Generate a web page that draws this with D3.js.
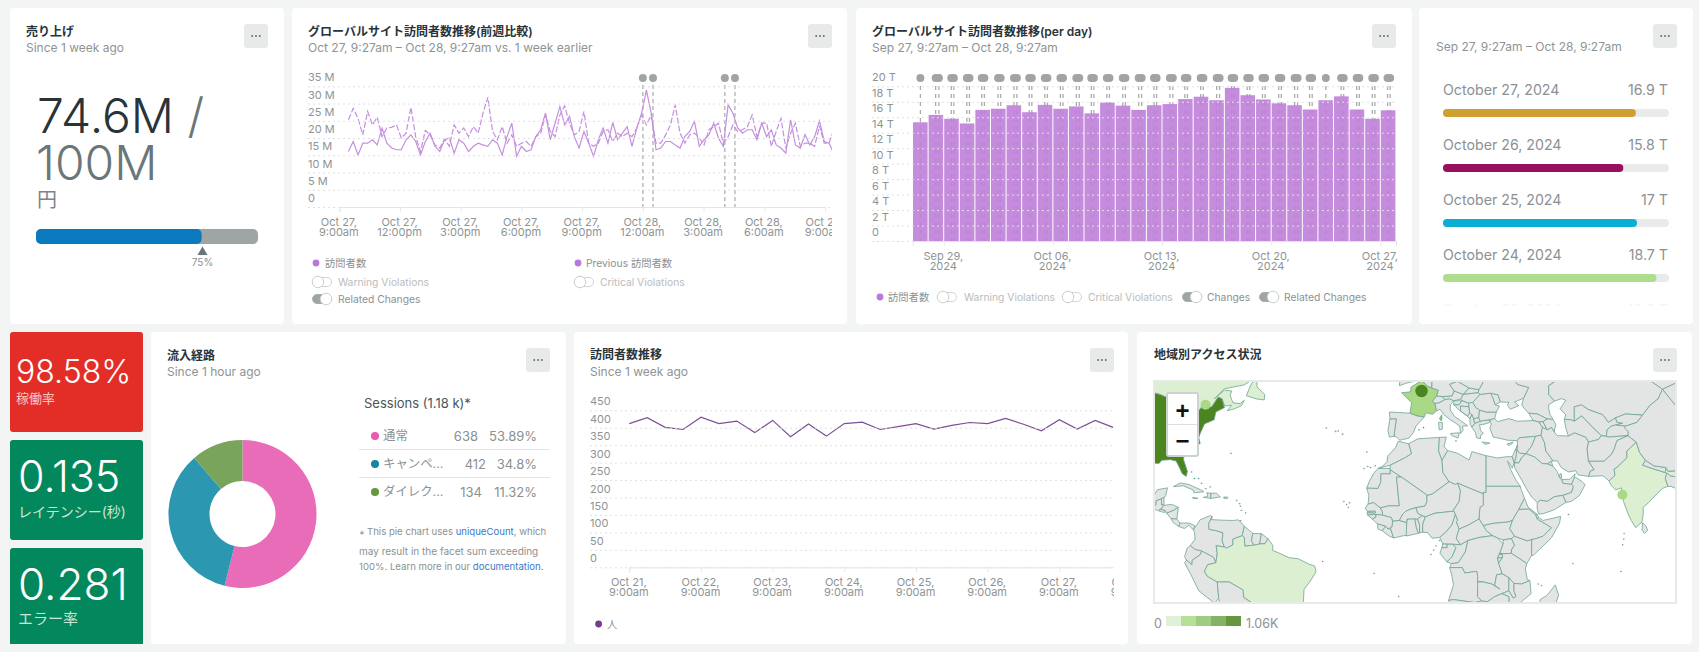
<!DOCTYPE html>
<html lang="ja">
<head>
<meta charset="utf-8">
<title>Dashboard</title>
<script src="https://cdn.jsdelivr.net/npm/d3@7"></script>
<style>
html,body{margin:0;padding:0;background:#f3f4f4;overflow:hidden}
svg{display:block}
text{font-family:Inter,"Noto Sans CJK JP",sans-serif;fill:#8b9192}
.title{font-size:12px;font-weight:600;fill:#293338}
.sub{font-size:12px;fill:#8e9494}
.tick text{font-size:11px;fill:#8e9494}
.grid .tick line{stroke:#dfe1e1;stroke-dasharray:2 3}
.grid .domain{display:none}
.xaxis .domain{stroke:#e3e5e5}
.xaxis .tick line{stroke:#e8eaea}
</style>
</head>
<body>
<svg id="board" width="1699" height="652"></svg>
<script>
// ---------- Sales gauge ----------
const salesValue = 74.6, salesTarget = 100, salesMarker = 75;

// ---------- Hourly visitors, this week vs. previous week (millions) ----------
const visitorsCurrent = [16.1,19,15.1,18.5,18.5,19.5,18,22.9,18.5,17.1,16.6,16.6,19.5,20.9,19,15.1,19,21.4,17.6,16.1,19.5,20,15.6,19.5,18.5,16.1,17.6,18.5,18,17.6,19.5,18.5,15.1,20.4,24.3,14.7,17.6,16.1,16.6,20.4,22.4,27.2,19.5,24.3,
  29.1,23.8,26.3,20.4,17.1,21.9,18.5,14.7,19.5,22.9,18.5,24.5,19.5,21.4,23.3,17.6,22.9,27.2,33.9,27.2,16.6,17.1,19,19,18,17.1,20.4,21.9,24.8,17.6,19.5,20.9,24.3,20,17.6,29.6,27.2,22.9,21.4,22.4,22.4,19.5,24.3,20.4,22.4,18,17.1,15.6,25.3,18,17.1,21,18,20.4,25,19,18.5,15.6];
const visitorsPrevious = [25.3,28.6,25.7,20.9,27.7,23.8,26,20.4,22.9,23.1,23.8,20,21.4,28.9,20.4,16.1,22.2,20.9,18,17.1,19.7,17.6,23.8,21.4,22.9,20.4,23.3,21.4,27.2,31.8,21.9,19.5,23.3,18.5,20.9,17.6,18.5,19,17.6,20.4,21.4,26.7,21.9,20.4,
  26.7,29.3,24.3,20.9,21.9,27.7,18.5,17.6,18.5,21.9,22.4,19,21.4,20.4,21.4,20.4,22.9,26.7,23.8,26.7,18.5,18.5,20.9,23.8,29.6,21.4,18.5,20.9,21.4,20,18,22.4,23.3,24.3,18.5,20.4,23.8,21.9,22.4,23.3,26.7,20.4,24.3,24.3,17.6,21.9,25.7,17.1,21.4,24.3,17.6,18.5,18.5,17.6,23.5,18.5,18.5,22.4];
const sampleMinutes = 14.25;
const relatedChangeHours = [15, 15.5, 19.05, 19.55];

const tickHours3h = [0,3,6,9,12,15,18,21,24];
const ticksMillions = [0,5,10,15,20,25,30,35];

// ---------- Daily totals in trillions, Sep 27 to Oct 27 ----------
const dailyTotals = [15.35,16.3,15.8,15.2,16.95,17.1,17.55,16.65,17.6,17.1,17.4,16.5,17.9,17.5,16.95,17.55,17.7,18.35,18.65,18.2,19.8,18.85,18.3,17.8,17.55,17,18.2,18.7,17,15.8,16.9];
const dailyChangeHours = [[12],[11.5,16.5],[11.5,15.5],[11.5,15.5],[10.5,14.5],[11.5,15.5],[12,16.5],[11.5,15.5],[11.5,15.5],[11.5,15.5],[12,16.5],[11,15],[11,15],[11.5,15.5],[12,16.5],[11.5,15.5],[12,16.5],[11,15],[11.5,15.5],[12,16.5],[11,15],[11,15],[10.5,14.5],[11.5,15.5],[12,16.5],[11,15],[12],[11.5,15.5],[11.5,15.5],[11.5,15.5],[11,15]];
const dailyTickDays = [2,9,16,23,30];
const ticksTrillions = [0,2,4,6,8,10,12,14,16,18,20];
const rowColors = ["#cf9f30","#990f5f","#0cafd3","#aedd8d"];

// ---------- Service health tiles ----------
const tileValues = ["98.58%","0.135","0.281"];
const tileLabels = ["稼働率","レイテンシー(秒)","エラー率"];
const tileColors = ["#e22e27","#03875c","#03875c"];

// ---------- Traffic sources ----------
const sourceNames = ["通常","キャンペ...","ダイレク..."];
const sourceCounts = [638,412,134];
const sourceShares = ["53.89%","34.8%","11.32%"];
const sourceSlices = ["#e96cb9","#2b97b1","#79a45c"];
const sourceDots = ["#ea58b4","#14879f","#62983f"];

// ---------- Visitors every six hours, one week ----------
const peopleSeries = [412,429,401,395,430,412,419,386,421,374,411,376,412,416,395,403,412,396,407,415,412,427,410,391,423,396,421,401];
const ticksPeople = [0,50,100,150,200,250,300,350,400,450];
const tickDaysPeople = [0,1,2,3,4,5,6,7];

// ---------- Access by region ----------
const regionAccess = {"United States":1060,"France":300,"Corsica":560,"Canada":60,"Brazil":60,"India":60};
const accessRamp = ["#dcefd0","#a9d985","#8cc569","#6fa64a","#4a8520"];
const cityBubbles = [["Paris",2.3,48.8,1060,"#4a8520"],["Montreal",-73.6,45.5,300,"#a9d985"],["Mumbai",72.9,19.2,300,"#a9d985"]];
const regions = [
["United States",[[-110,49],[-95.2,49],[-89.5,48],[-84.5,46.5],[-82.5,45.3],[-82.5,43],[-83,42],[-79,43],[-76.5,43.6],[-75,45],[-71.5,45],[-69.2,47.4],[-67.8,47],[-67,44.8],[-70,43.7],[-70.6,41.7],[-74,40.6],[-75.5,38],[-76,36.8],[-75.5,35.2],[-78,33.9],[-81,32],[-81.4,30.5],[-80,26.8],[-80.4,25.2],[-81.8,26],[-82.8,28],[-84,30],[-86,30.4],[-89,30.2],[-90,29.2],[-94,29.5],[-97.3,27.5],[-97.5,25.9],[-100,28],[-106,31.8],[-110,31.3]]],
["Canada",[[-110,49],[-95.2,49],[-89.5,48],[-84.5,46.5],[-82.5,45.3],[-82.5,43],[-83,42],[-79,43],[-76.5,43.6],[-75,45],[-71.5,45],[-69.2,47.4],[-67.8,47],[-66.9,45.2],[-64.5,45.4],[-66,44],[-63.5,44.5],[-61,45.3],[-60,46.6],[-61.5,45.8],[-64,46],[-65,47.8],[-64.4,48.8],[-67,49],[-70.5,47],[-67,49.3],[-60,50.2],[-56,51.8],[-58,54.5],[-70,60],[-110,60]]],
["Canada",[[-59.3,47.7],[-55.5,46.9],[-53,46.7],[-52.8,48],[-55.5,49.7],[-55.6,51.6],[-57.5,50.5]]],
["Mexico",[[-117,32.5],[-106,31.8],[-100,28],[-97.5,25.9],[-97.8,22.4],[-96,19],[-94.5,18.2],[-92,18.6],[-90.5,20.9],[-87,21.5],[-87.6,19],[-88.3,18],[-89.1,17.9],[-91,17.2],[-91,16],[-92.2,14.6],[-94.5,16.2],[-100,17],[-105.5,20],[-110,26],[-115,31]]],
["Guatemala",[[-92.2,14.6],[-91,16],[-91,17.2],[-89.1,17.9],[-89.1,15.9],[-88.2,15.7],[-89.3,14.4],[-90.5,13.9]]],
["Belize",[[-89.1,17.9],[-88.3,18.4],[-88.2,16],[-89.1,15.9]]],
["El Salvador",[[-90.1,13.8],[-89.3,14.4],[-87.8,13.9],[-88,13.2]]],
["Honduras",[[-89.3,14.4],[-88.2,15.7],[-85.5,16],[-83.2,15],[-84.8,14],[-87.3,13],[-87.8,13.9]]],
["Nicaragua",[[-87.3,13],[-84.8,14],[-83.2,15],[-83.7,11],[-85.7,11.1]]],
["Costa Rica",[[-85.7,11.1],[-83.7,11],[-82.6,9.6],[-83,8.4],[-85,9.8]]],
["Panama",[[-83,8.4],[-82.6,9.6],[-79.5,9.6],[-77.4,8.7],[-77.9,7.2],[-79.5,8.9],[-81,7.7]]],
["Cuba",[[-84.9,21.9],[-82.5,23.1],[-79.5,22.6],[-75,20.7],[-74.2,20.2],[-77.7,19.9],[-78,20.8],[-81.5,22.2],[-83.5,22]]],
["Haiti",[[-74.4,18.4],[-71.8,18],[-71.7,19.7],[-73.2,19.9],[-72.8,18.6]]],
["Dominican Republic",[[-71.8,18],[-68.4,18.5],[-69.9,19.8],[-71.7,19.7]]],
["Jamaica",[[-78.3,18.3],[-76.3,18.1],[-76.8,17.9],[-78,18]]],
["Puerto Rico",[[-67.2,18.5],[-65.7,18.4],[-66,18],[-67.2,18]]],
["Colombia",[[-77.9,7.2],[-75.6,10.7],[-72,12.2],[-71.3,11.8],[-72.5,9.5],[-72.4,7.4],[-70,7],[-67.5,6.2],[-67.8,3.5],[-67,1.2],[-69.9,1.7],[-69.5,-1],[-70,-4.3],[-70.8,-2.4],[-75,-0.2],[-77.4,0.4],[-79,1.7],[-77.3,4],[-77.5,6.5]]],
["Venezuela",[[-71.3,11.8],[-71.8,10.8],[-68,10.6],[-64,10.5],[-62,10.7],[-60,8.5],[-60.7,5.2],[-64,4],[-64,2],[-66.3,0.8],[-67,1.2],[-67.8,3.5],[-67.5,6.2],[-70,7],[-72.4,7.4],[-72.5,9.5]]],
["Guyana",[[-60,8.5],[-57,6],[-57.5,3.4],[-56.5,1.9],[-59.8,1.5],[-60,4.5],[-60.7,5.2]]],
["Suriname",[[-57,6],[-54,5.9],[-54.6,2.3],[-56.5,1.9],[-57.5,3.4]]],
["French Guiana",[[-54,5.9],[-51.7,4.2],[-52.7,2.4],[-54.6,2.3]]],
["Ecuador",[[-80.1,0.8],[-79,1.7],[-77.4,0.4],[-75,-0.2],[-75.5,-1.5],[-78.3,-3.4],[-78.4,-5],[-80.3,-3.4],[-81,-2.2]]],
["Peru",[[-81,-4.3],[-80.3,-3.4],[-78.4,-5],[-78.3,-3.4],[-75.5,-1.5],[-75,-0.2],[-70.8,-2.4],[-70,-4.3],[-72.9,-5],[-74,-7.3],[-73,-9],[-69.5,-11],[-69,-16.5],[-70.4,-18.3],[-76,-14],[-79,-8]]],
["Brazil",[[-51.7,4.2],[-50,1.8],[-50,0],[-48,-0.8],[-44.3,-2.5],[-41,-2.9],[-37.5,-4.7],[-35.2,-5.5],[-34.8,-7.5],[-37,-11],[-39,-13.5],[-39.2,-17.5],[-40.8,-21.5],[-44,-23],[-48.5,-26],[-48.8,-28.5],[-53.4,-33.7],[-57.6,-30.2],[-54.6,-25.6],[-55,-24],[-57.8,-22.1],[-58,-20],[-57.5,-18],[-60.2,-16.3],[-60.5,-13.7],[-65.3,-11],[-69.5,-11],[-73,-9],[-74,-7.3],[-72.9,-5],[-70,-4.3],[-69.5,-1],[-69.9,1.7],[-67,1.2],[-66.3,0.8],[-64,2],[-64,4],[-60.7,5.2],[-60,4.5],[-59.8,1.5],[-56.5,1.9],[-54.6,2.3],[-52.7,2.4]]],
["Bolivia",[[-69.5,-11],[-65.3,-11],[-60.5,-13.7],[-60.2,-16.3],[-57.5,-18],[-58,-20],[-62.6,-22.2],[-67,-22.8],[-68.5,-19.5],[-69,-16.5]]],
["Chile",[[-70.4,-18.3],[-68.5,-19.5],[-67,-22.8],[-68,-27],[-70,-27],[-70.5,-23]]],
["Paraguay",[[-58,-20],[-57.8,-22.1],[-55,-24],[-54.6,-25.6],[-58,-27],[-60,-24],[-62.6,-22.2]]],
["Morocco",[[-5.9,35.8],[-2.2,35.1],[-1.2,32.2],[-3.6,30.9],[-8.7,28.7],[-13,27.7],[-11.5,28.3],[-9.8,29.8],[-9.6,31.5],[-6.8,34]]],
["Western Sahara",[[-13,27.7],[-8.7,27.7],[-8.7,26],[-12,26],[-12,23.5],[-13,21.3],[-17,21.4],[-16,23.7],[-14.5,26.2]]],
["Mauritania",[[-17,21.4],[-13,21.3],[-12,23.5],[-12,26],[-8.7,26],[-8.7,27.3],[-4.8,25],[-6.5,25],[-5.5,15.5],[-9.3,15.5],[-12.2,14.8],[-14.5,16.6],[-16.5,16.1],[-16.2,19]]],
["Algeria",[[-2.2,35.1],[1,36.5],[8.6,36.9],[8.3,33],[9.5,30.2],[9.8,26.5],[12,23.5],[6,19.4],[4.2,19],[3.2,19.8],[-4.8,25],[-8.7,27.3],[-8.7,28.7],[-3.6,30.9],[-1.2,32.2]]],
["Tunisia",[[8.6,36.9],[11,37],[10.2,34.3],[11.5,33.1],[9.5,30.2],[8.3,33]]],
["Libya",[[11.5,33.1],[15,32.3],[19,30.3],[20,32.8],[25,31.6],[25,20],[24,20],[24,19.5],[15,23],[14.2,22.6],[12,23.5],[9.8,26.5],[9.5,30.2]]],
["Egypt",[[25,31.6],[29,30.9],[32.3,31.3],[34.2,31.3],[34.9,29.5],[34.2,27.8],[33,29.5],[32.5,29.9],[33.8,27],[35.5,24],[37,22],[25,22]]],
["Sudan",[[25,22],[37,22],[37.3,21],[38.5,18],[36.5,14.3],[34.3,10.6],[33,10],[31,9.8],[27.5,9.5],[24,8.7],[22.5,11],[22.8,15],[24,15.7],[24,20],[25,20]]],
["South Sudan",[[24,8.7],[27.5,9.5],[31,9.8],[33,10],[34.3,10.6],[33.3,7.7],[35,5],[33.9,4.2],[31,3.7],[29,4.4],[27.2,5.2],[25,7]]],
["Mali",[[-12.2,14.8],[-9.3,15.5],[-5.5,15.5],[-6.5,25],[-4.8,25],[3.2,19.8],[4.2,19],[4.2,16.9],[3.5,15.4],[0.3,14.9],[-2,14.2],[-3.3,13.6],[-4.3,12.7],[-5.5,10.5],[-7.9,10.2],[-8.3,11.5],[-11.4,12.3],[-11.5,13.5]]],
["Niger",[[3.5,15.4],[4.2,16.9],[4.2,19],[6,19.4],[12,23.5],[14.2,22.6],[15,23],[16,20.5],[15.5,16.9],[13.5,14],[13.6,13.7],[10,13.3],[7,13],[3.6,11.7],[2.4,12.2],[0.9,13],[0.3,14.9]]],
["Chad",[[15,23],[24,19.5],[24,15.7],[22.8,15],[22.5,11],[19,9],[15.5,7.5],[14.5,10],[15,10.5],[14.2,12.5],[13.5,14],[15.5,16.9],[16,20.5]]],
["Senegal",[[-17.5,14.7],[-16.5,16.1],[-14.5,16.6],[-12.2,14.8],[-11.5,13.5],[-11.4,12.3],[-13.7,12.6],[-16.7,12.4],[-16.8,13.2],[-14,13.1],[-14,13.7],[-16.7,13.6]]],
["Gambia",[[-16.8,13.2],[-14,13.1],[-14,13.7],[-16.7,13.6]]],
["Guinea-Bissau",[[-16.7,12.4],[-13.7,12.6],[-13.7,11.7],[-15,11]]],
["Guinea",[[-15,11],[-13.7,11.7],[-13.7,12.6],[-11.4,12.3],[-8.3,11.5],[-7.9,10.2],[-8,8.5],[-9.5,7.5],[-10.3,8.5],[-13.2,9.3]]],
["Sierra Leone",[[-13.2,9.3],[-10.3,8.5],[-11.5,6.9],[-13,7.5]]],
["Liberia",[[-11.5,6.9],[-10.3,8.5],[-9.5,7.5],[-8.6,7.7],[-7.5,4.4],[-9,5]]],
["Ivory Coast",[[-7.5,4.4],[-8.6,7.7],[-8,8.5],[-7.9,10.2],[-5.5,10.5],[-2.9,9.8],[-2.7,5.3],[-4,5.2]]],
["Ghana",[[-3.1,5.1],[-2.9,9.8],[-2.8,11],[-0.1,11.1],[0.5,8],[1.2,6]]],
["Togo",[[1.2,6],[0.5,8],[-0.1,11.1],[0.9,11],[1.6,9],[1.6,6.2]]],
["Benin",[[1.6,6.2],[1.6,9],[0.9,11],[2.4,12.2],[3.6,11.7],[2.7,9],[2.7,6.4]]],
["Burkina Faso",[[-5.5,10.5],[-4.3,12.7],[-3.3,13.6],[-2,14.2],[0.3,14.9],[0.9,13],[2.4,12.2],[0.9,11],[-0.1,11.1],[-2.8,11],[-2.9,9.8]]],
["Nigeria",[[2.7,6.4],[2.7,9],[3.6,11.7],[7,13],[10,13.3],[13.6,13.7],[14.2,12.5],[13,9],[11,6.6],[8.7,4.6],[6,4.3],[4.4,6.3]]],
["Cameroon",[[8.7,4.6],[11,6.6],[13,9],[14.2,12.5],[15,10.5],[14.5,10],[15.5,7.5],[14.5,4.3],[16,2],[13.3,2.2],[9.8,2.3]]],
["Central African Republic",[[15.5,7.5],[19,9],[22.5,11],[24,8.7],[25,7],[27.2,5.2],[22.7,4.6],[18.6,3.5],[16,2],[14.5,4.3]]],
["Equatorial Guinea",[[9.8,2.3],[11.3,2.2],[11.3,1],[9.4,1]]],
["Gabon",[[9.4,1],[11.3,1],[11.3,2.2],[13.3,2.2],[14.4,1],[13,-2.3],[11.2,-4],[8.8,-1]]],
["Congo",[[11.2,-4],[13,-2.3],[14.4,1],[13.3,2.2],[16,2],[18.6,3.5],[17.7,-0.5],[15.2,-4.3],[12.8,-4.6]]],
["DR Congo",[[12.2,-6],[12.8,-4.6],[15.2,-4.3],[17.7,-0.5],[18.6,3.5],[22.7,4.6],[27.2,5.2],[29,4.4],[31,2.3],[29.7,-1.2],[29,-2.7],[29.4,-4.4],[30.7,-8.2],[28.7,-8.5],[28,-12.2],[29.8,-13.4],[27,-11.7],[24,-11],[22,-11],[22,-9],[21.7,-7.3],[17.5,-7.9],[16.6,-6]]],
["Uganda",[[31,3.7],[33.9,4.2],[35,1.9],[33.9,0.2],[33.9,-1],[29.7,-1.2],[31,2.3]]],
["Kenya",[[33.9,-1],[33.9,0.2],[35,1.9],[33.9,4.2],[35,5],[39.5,3.4],[41,3.9],[41,-1.7],[39.3,-4.6],[37.7,-3.5]]],
["Rwanda",[[29,-2.7],[29.7,-1.2],[30.6,-1.2],[30.8,-2.4]]],
["Burundi",[[29,-2.7],[30.8,-2.4],[29.4,-4.4]]],
["Tanzania",[[29.7,-1.2],[33.9,-1],[37.7,-3.5],[39.3,-4.6],[38.8,-6.5],[39.5,-10.2],[40.4,-10.5],[37.5,-11.7],[34.8,-11.5],[33,-9.5],[30.7,-8.2],[29.4,-4.4],[30.8,-2.4],[30.6,-1.2]]],
["Ethiopia",[[34.3,10.6],[36.5,14.3],[38,14.4],[40,14.5],[42.4,12.5],[43,11],[48,8],[45,5],[42,4],[41,3.9],[39.5,3.4],[35,5],[33.3,7.7]]],
["Eritrea",[[36.5,14.3],[38.5,18],[39.8,15],[43,12.6],[42.4,12.5],[40,14.5],[38,14.4]]],
["Djibouti",[[43,12.6],[43.4,11.6],[43,11],[42.4,12.5]]],
["Somalia",[[43,11],[43.4,11.6],[45,10.5],[51.2,11.9],[50.8,9.5],[48,4.5],[41.6,-1.7],[41,-1.7],[41,3.9],[42,4],[45,5],[48,8]]],
["Angola",[[12.2,-6],[16.6,-6],[17.5,-7.9],[21.7,-7.3],[22,-9],[22,-11],[24,-11],[22,-13],[22,-16],[23.5,-17.5],[21,-18],[13.5,-17],[11.8,-17.3],[13.5,-12],[13,-9]]],
["Zambia",[[22,-11],[24,-11],[27,-11.7],[29.8,-13.4],[28,-12.2],[28.7,-8.5],[30.7,-8.2],[33,-9.5],[33,-14],[30.5,-15],[28,-16],[25.5,-17.7],[23.5,-17.5],[22,-16],[22,-13]]],
["Malawi",[[33,-9.5],[34.8,-11.5],[34.8,-14],[35.5,-16],[34.5,-16.5],[33,-14]]],
["Mozambique",[[40.4,-10.5],[40.8,-15],[37,-18],[35,-20],[35.5,-24],[32.9,-26],[32,-22],[33,-20],[33,-16],[30.5,-15],[33,-14],[34.5,-16.5],[35.5,-16],[34.8,-14],[34.8,-11.5],[37.5,-11.7]]],
["Zimbabwe",[[25.5,-17.7],[28,-16],[30.5,-15],[33,-16],[33,-20],[32,-22],[29.5,-22],[26,-18.5]]],
["Namibia",[[11.8,-17.3],[13.5,-17],[21,-18],[23.5,-17.5],[25.5,-17.7],[21,-19],[20,-28],[16.5,-28],[14.5,-22]]],
["Madagascar",[[49.3,-12],[50.5,-15.5],[47,-25],[45,-25.5],[43.3,-22],[44,-17],[46.5,-15.5]]],
["United Kingdom",[[-5.5,50],[-3,50.6],[1.4,51.2],[1,53],[-5,53]]],
["France",[[-1.8,43.4],[-1.2,46],[-4.7,48.4],[-1.6,48.6],[-1.4,49.7],[1.6,50.9],[2.6,51.1],[4.2,50],[5.8,49.5],[8.2,49],[7.6,47.6],[6.1,46.3],[7,45.9],[7.6,44],[6.2,43.1],[3.9,43.5],[3.2,42.4],[0.7,42.7]]],
["Corsica",[[9.4,43],[9.5,41.9],[9.2,41.4],[8.6,42]]],
["Sardinia",[[8.3,41],[9.6,41],[9.6,39.2],[8.5,39]]],
["Sicily",[[12.5,38],[15.6,38.2],[15.1,36.7],[12.8,37.5]]],
["Spain",[[-9,43.7],[-1.8,43.4],[0.7,42.7],[3.2,42.4],[0.3,40],[-0.5,38.3],[-2.1,36.7],[-5.4,36.1],[-6.4,37],[-7.4,37.2],[-7,39.6],[-6.6,41.9],[-8.8,41.9]]],
["Portugal",[[-8.8,41.9],[-6.6,41.9],[-7,39.6],[-7.4,37.2],[-9,37],[-9.5,38.8]]],
["Italy",[[7,45.9],[7.6,44],[8.8,44.4],[10.2,43],[12.2,41.8],[14.3,40.8],[15.7,40],[16,38],[16.9,38.9],[16.7,40],[18.5,40.1],[16,41.5],[14,42.5],[12.4,44.2],[12.4,45.5],[13.7,46.5],[12,47],[10.5,46.8],[8.5,46]]],
["Belgium",[[2.6,51.1],[4.2,51.4],[6,50.8],[5.8,49.5],[4.2,50]]],
["Germany",[[6,50.8],[5.9,49.5],[8.2,49],[7.6,47.6],[9.6,47.5],[13,47.6],[13.8,48.8],[12.2,50.3],[15,51],[15,53],[6,53]]],
["Switzerland",[[6.1,46.3],[7.6,47.6],[9.6,47.5],[10.5,46.8],[8.5,46],[7,45.9]]],
["Austria",[[9.6,47.5],[13,47.6],[13.8,48.8],[17,48],[16.1,46.9],[13.7,46.5],[12,47],[10.5,46.8]]],
["Czechia",[[12.2,50.3],[15,51],[19,49.5],[17,48],[13.8,48.8]]],
["Slovakia",[[17,48],[19,49.5],[22.5,49.1],[22.2,48.4]]],
["Poland",[[15,51],[19,49.5],[22.5,49.1],[24,50.8],[24,53],[15,53]]],
["Hungary",[[16.1,46.9],[17,48],[22.2,48.4],[22.9,48],[20.3,46.1],[18.8,45.9],[16.5,46.5]]],
["Slovenia",[[13.7,46.5],[16.5,46.5],[15.5,45.5],[13.6,45.5]]],
["Croatia",[[13.6,45.5],[15.5,45.5],[16.5,46.5],[18.8,45.9],[19,45],[16,45.2],[16,44],[18.5,42.6],[15,44.5],[14.2,45.2]]],
["Bosnia",[[16,45.2],[19,45],[19.2,43.5],[18.5,42.6],[16,44]]],
["Serbia",[[18.8,45.9],[20.3,46.1],[21.4,44.8],[22.7,44.2],[22.4,42.3],[20.6,41.9],[20,43],[19.2,43.5],[19,45]]],
["Montenegro",[[18.5,42.6],[19.2,43.5],[20,43],[19.3,41.9]]],
["Albania",[[19.3,41.9],[20,43],[20.6,41.9],[21,40.7],[20,39.7],[19.4,40.5]]],
["North Macedonia",[[20.6,41.9],[22.4,42.3],[23,41.3],[21,40.7]]],
["Greece",[[20,39.7],[21,40.7],[23,41.3],[24,41.5],[26.3,41.7],[26,40.9],[23.7,40.4],[22.7,40.4],[23,38.9],[24,38],[23,37.5],[23,36.5],[21.7,36.8],[21.2,38.3]]],
["Crete",[[23.6,35.6],[26.3,35.3],[24.7,34.9]]],
["Cyprus",[[32.3,35],[34.5,35.6],[33.8,34.9],[33,34.6]]],
["Bulgaria",[[22.7,44.2],[25,43.7],[28.6,43.7],[28,42],[26.3,41.7],[24,41.5],[23,41.3],[22.4,42.3]]],
["Romania",[[20.3,46.1],[22.9,48],[26.6,48.3],[27.5,47],[28.2,45.5],[29.7,45.2],[28.6,43.7],[25,43.7],[22.7,44.2],[21.4,44.8]]],
["Moldova",[[26.6,48.3],[29.2,47.9],[30,46.2],[28.2,45.5],[27.5,47]]],
["Ukraine",[[24,50.8],[22.5,49.1],[22.2,48.4],[22.9,48],[26.6,48.3],[29.2,47.9],[30,46.2],[33,46.1],[32.5,45.4],[33.5,44.4],[36.5,45.3],[35,46.2],[38.2,47.1],[40,49.6],[36,50.3],[34,52.3],[31,52.5],[24,51.7]]],
["Belarus",[[24,51.7],[31,52.5],[32,54],[24,55]]],
["Russia",[[27,60],[28,56],[32,54],[31,52.5],[34,52.3],[36,50.3],[40,49.6],[38.2,47.1],[37.5,45.4],[39.9,43.4],[43,43.2],[46.5,41.9],[48.5,41.8],[47.5,43],[47,44.5],[47,45.5],[49,46.4],[47,48],[47,50],[51,51.7],[60,51],[61,54],[70,55],[77,53.5],[87,49.2],[92,50.7],[98,52],[98,62]]],
["Georgia",[[40,43.4],[43,43.2],[46.5,41.9],[45,41.2],[43.5,41.1],[41.5,41.5]]],
["Armenia",[[43.5,41.1],[45,41.2],[46.5,39],[44.8,39.7]]],
["Azerbaijan",[[46.5,41.9],[48.5,41.8],[49.5,40.4],[48.9,38.4],[48,39.6],[46.5,39],[45,41.2]]],
["Turkey",[[26.3,41.7],[28,42],[29,41.2],[33,42],[36,41.3],[41.5,41.5],[43.5,41.1],[44.8,39.7],[44.3,37.5],[42.4,37.2],[36.7,36.8],[36,36],[32.5,36.1],[30.5,36.5],[27.5,37],[26.3,39.4],[26.8,40.5]]],
["Syria",[[36,36],[36.7,36.8],[42.4,37.2],[41,34.4],[39,32.2],[36.8,32.3],[35.8,33.4],[36,34.7]]],
["Lebanon",[[35.1,33.1],[36,34.7],[35.8,33.4]]],
["Israel",[[34.2,31.3],[35.1,33.1],[35.8,33.4],[35.5,31],[34.9,29.5]]],
["Jordan",[[34.9,29.5],[35.5,31],[35.8,33.4],[36.8,32.3],[39,32.2],[37.5,31],[36.5,29.4]]],
["Iraq",[[42.4,37.2],[44.3,37.5],[45.5,35.5],[46,33],[47.7,31],[48.6,30],[47.9,29.9],[46.6,29.1],[44.7,29.2],[42,31.2],[39,32.2],[41,34.4]]],
["Iran",[[44.8,39.7],[46.5,39],[48,39.6],[48.9,38.4],[50,37.4],[53.9,37.3],[56,38.2],[60,37],[61,35.6],[60.5,33.6],[60.8,31.5],[61,29.9],[63,27.3],[61.7,26.9],[61,25.2],[57.3,25.7],[56.5,27],[54,26.6],[51.5,27.9],[50,30],[48.6,30],[47.7,31],[46,33],[45.5,35.5],[44.3,37.5]]],
["Saudi Arabia",[[34.9,29.4],[36.5,29.4],[37.5,31],[39,32.2],[42,31.2],[44.7,29.2],[46.6,29.1],[48.4,28.5],[50,26.7],[50.8,24.8],[51.6,24.2],[52,23],[55,22.7],[55.7,22],[55,20],[52,19],[49,18.6],[46.5,17],[44,17.4],[43,16.6],[41,18.5],[39,21.5],[37.2,24.5],[35,28]]],
["Yemen",[[43,16.6],[44,17.4],[46.5,17],[49,18.6],[52,19],[53.1,16.7],[49,14.2],[45,12.8],[43.5,12.7],[42.9,14.8]]],
["Oman",[[52,19],[55,20],[55.7,22],[55,22.7],[56,24.8],[56.4,24.9],[58.7,23.6],[59.8,22.5],[57.8,19],[55,17],[53.1,16.7]]],
["UAE",[[51.6,24.2],[52,23],[55,22.7],[56,24.8],[56.3,26],[54.5,24.3]]],
["Qatar",[[50.8,24.8],[51.6,24.6],[51.4,26.1],[50.9,25.9]]],
["Kuwait",[[46.6,29.1],[48.4,28.5],[47.9,29.9]]],
["Kazakhstan",[[49,46.4],[47,48],[47,50],[51,51.7],[60,51],[61,54],[70,55],[77,53.5],[87,49.2],[85.5,47],[82.5,45.3],[80,42.9],[74,43.2],[70.5,42.2],[68,41],[66,43],[61,44.3],[58.5,45.5],[56,45],[56,41.3],[54.8,41.7],[52.5,41.8],[53,43],[51,44.5],[53,46.6],[51.5,47]]],
["Uzbekistan",[[56,45],[58.5,45.5],[61,44.3],[66,43],[68,41],[70.5,42.2],[71,41],[73,40.8],[70.5,40.3],[69,40],[67.5,39],[67.3,37.2],[65.5,37.4],[62,40],[58.6,42.7],[56,41.3]]],
["Turkmenistan",[[52.5,41.8],[54.8,41.7],[56,41.3],[58.6,42.7],[62,40],[65.5,37.4],[64.5,36.3],[61,35.6],[60,37],[56,38.2],[53.9,37.3],[53,39.5]]],
["Kyrgyzstan",[[70.5,42.2],[74,43.2],[80,42.9],[78,41],[74,40],[70.5,40.3],[73,40.8],[71,41]]],
["Tajikistan",[[67.3,37.2],[67.5,39],[69,40],[70.5,40.3],[74,40],[75,38.5],[74.9,37.4],[71.5,37.2],[68,37]]],
["Afghanistan",[[60.5,33.6],[61,35.6],[64.5,36.3],[65.5,37.4],[67.3,37.2],[68,37],[71.5,37.2],[74.9,37.4],[71,36],[70,33.5],[69,31.9],[66.4,29.9],[61,29.9],[60.8,31.5]]],
["Pakistan",[[61,25.2],[61.7,26.9],[63,27.3],[61,29.9],[66.4,29.9],[69,31.9],[70,33.5],[71,36],[74.9,37.4],[77.8,35.5],[74.5,33],[74.5,31],[71,28],[70,27.5],[70.3,25.5],[68.2,23.7],[67,24.8],[66,25.4]]],
["India",[[68.2,23.7],[70.3,25.5],[70,27.5],[71,28],[74.5,31],[74.5,33],[77.8,35.5],[79,32.5],[81,30.2],[80,28.7],[84,27.5],[88,26.4],[88.2,28],[89,26.8],[92,27],[96,29],[97.3,28],[94.5,25],[93.3,22],[92.2,25],[89.8,25.3],[88.5,26.3],[88,24.5],[88.9,22],[87,21.3],[85,19.5],[82,16.5],[80.2,15],[80.2,12.5],[79.8,10],[77.6,8],[76,10.5],[74.8,13],[73.3,17],[72.8,20],[72.6,21.5],[70.5,20.8],[69,22.3]]],
["Nepal",[[80,28.7],[81,30.2],[84,28.5],[88.2,28],[88,26.4],[84,27.5]]],
["Bangladesh",[[88,24.5],[88.5,26.3],[89.8,25.3],[92.2,25],[93.3,22],[92.3,21],[90,22],[88.9,22]]],
["Myanmar",[[92.3,21],[93.3,22],[94.5,25],[97.3,28],[100,20],[94,16]]],
["China",[[73.6,39.5],[75,38.5],[74.9,37.4],[77.8,35.5],[79,32.5],[81,30.2],[84,28.5],[88.2,28],[89,26.8],[92,27],[96,29],[97.3,28],[100,20],[110,20],[120,30],[120,50],[98,42.5],[92,45],[87,49.2],[85.5,47],[82.5,45.3],[80,42.9],[78,41],[74,40]]],
["Mongolia",[[87,49.2],[92,45],[98,42.5],[110,43],[110,52],[98,52],[92,50.7]]],
["Sri Lanka",[[80,9.7],[81.2,8.5],[81.8,7],[80.6,6],[79.8,7.2]]]
];
// Small islands drawn as tiny spherical caps: longitude, latitude
const islands = [[-16.9,32.7],[-15.6,28],[-16.6,28.3],[-14,28.5],[-17.9,27.7],[-28,38.6],[-25.5,37.8],[-31.2,39.5],[-27,38.7],[-24,16],[-23.5,15],[-25,17],[-23,16.5],[-64.7,32.3],[-77.5,24.5],[-76,24.5],[-75,23],[-73.5,21.2],[-72,21.8],[-78.5,26.6],[-61.3,10.4],[-61,14],[-61.4,15.4],[-61.7,16.2],[-62.8,17.3],[-59.5,13.1],[7.4,1.6],[6.6,0.2],[8.7,3.5],[5.6,-1.4],[-5.7,-16],[-14.4,-8],[-32.4,-3.8],[54,12.5],[43.3,-11.7],[44.4,-12.2],[55.5,-4.6],[73.4,4],[73,2],[73.5,6],[72.4,-7.3],[3,39.6],[1.4,39],[14.4,35.9]];

// Projection and page geometry
const svg = d3.select("#board");
const cardRects = [[10,8,274,316],[292,8,555,316],[856,8,556,316],[1419,8,274,316],[151,332,415,312],[574,332,554,312],[1137,332,555,312]];
const menuButtons = [[244,24],[808,24],[1372,24],[1653,24],[526,348],[1090,348],[1653,348]];
const hour = 3600e3, day = 24*hour;

svg.append("g").selectAll("rect").data(cardRects).join("rect")
  .attr("x",d=>d[0]).attr("y",d=>d[1]).attr("width",d=>d[2]).attr("height",d=>d[3]).attr("rx",4).attr("fill","#fff");
const menu = svg.append("g").selectAll("g").data(menuButtons).join("g").attr("transform",d=>`translate(${d[0]},${d[1]})`);
menu.append("rect").attr("width",24).attr("height",24).attr("rx",3).attr("fill","#e8e9e9");
menu.selectAll("circle").data([8.2,12,15.8]).join("circle").attr("cx",d=>d).attr("cy",12).attr("r",.9).attr("fill","#5e6669");

function label(parent,x,y,txt,cls){
  return parent.append("text").attr("x",x).attr("y",y).attr("dy",".35em").attr("class",cls||null).text(txt);
}
function defsClip(id,x,y,w,h){
  svg.append("clipPath").attr("id",id).append("rect").attr("x",x).attr("y",y).attr("width",w).attr("height",h);
}
function toggle(g,x,y,on){
  g.append("rect").attr("x",x).attr("y",y-4.5).attr("width",19).attr("height",9).attr("rx",4.5)
    .attr("fill",on?"#9fa5a5":"#fff").attr("stroke",on?"#9fa5a5":"#c6caca").attr("stroke-width",.8);
  g.append("circle").attr("cx",on?x+13.5:x+5.5).attr("cy",y).attr("r",5.8).attr("fill","#fff").attr("stroke","#c6caca").attr("stroke-width",.9);
}
function legendDot(g,x,y,color,txt,tx){
  g.append("circle").attr("cx",x).attr("cy",y).attr("r",3.4).attr("fill",color);
  label(g,tx,y,txt).attr("font-size",10.3);
}
function legendToggle(g,x,y,on,txt,tx){
  toggle(g,x,y,on);
  label(g,tx,y,txt).attr("font-size",10.3).style("fill",on?"#8b9192":"#b9bdbd");
}
// Left-aligned value labels sit above their dashed grid lines
function yGrid(scale,values,fmt,x0,width){
  const g = svg.append("g").attr("class","grid").attr("transform",`translate(${x0},0)`)
    .call(d3.axisRight(scale).tickValues(values).tickSize(width).tickFormat(fmt));
  g.selectAll(".tick text").attr("x",0).attr("dy","-5.5px").attr("text-anchor","start");
  return g;
}
// Two-line date labels under the baseline; the wrapper clips them to the plot width
function xAxis(scale,values,y,line1,line2,clipId){
  const g = svg.append("g").attr("clip-path",`url(#${clipId})`).append("g").attr("class","xaxis").attr("transform",`translate(0,${y})`)
    .call(d3.axisBottom(scale).tickValues(values).tickSize(5).tickFormat(""));
  g.selectAll(".tick").each(function(d){
    const t = d3.select(this).select("text").attr("y",0).attr("dy",null);
    t.append("tspan").attr("x",-1).attr("y",15).attr("dy",".35em").text(line1(d));
    t.append("tspan").attr("x",-1).attr("y",25).attr("dy",".35em").text(line2(d));
  });
  return g;
}

// ---------- Sales gauge card ----------
(function(){
  const g = svg.append("g");
  label(g,26,32,"売り上げ","title");
  label(g,26,48,"Since 1 week ago","sub");
  const big = g.append("text").attr("x",37).attr("y",133).attr("font-size",48).attr("font-weight",300).style("fill","#293338");
  big.append("tspan").text(salesValue+"M ");
  big.append("tspan").style("fill","#6b7679").text("/");
  g.append("text").attr("x",36).attr("y",180).attr("font-size",48).attr("font-weight",300).style("fill","#6b7679").text(salesTarget+"M");
  label(g,37,200,"円").attr("font-size",20).style("fill","#7b8487");
  const x = d3.scaleLinear().domain([0,salesTarget]).range([36,258]);
  g.append("rect").attr("x",x(0)).attr("y",229).attr("width",x(salesTarget)-x(0)).attr("height",15).attr("rx",5).attr("fill","#9fa5a5");
  g.append("rect").attr("x",x(0)).attr("y",229).attr("width",x(salesValue)-x(0)).attr("height",15).attr("rx",5).attr("fill","#0b79bd");
  const mx = x(salesMarker);
  g.append("path").attr("d",`M${mx},246.5L${mx+5},255L${mx-5},255Z`).attr("fill","#6b7679");
  label(g,mx,262.5,salesMarker+"%").attr("font-size",10).attr("text-anchor","middle");
})();

// ---------- Week-over-week line chart ----------
(function(){
  const g = svg.append("g");
  label(g,308,32,"グローバルサイト訪問者数推移(前週比較)","title");
  label(g,308,48,"Oct 27, 9:27am – Oct 28, 9:27am vs. 1 week earlier","sub");
  const t0 = Date.UTC(2024,9,27,9,0);
  const x = d3.scaleUtc().domain([t0,t0+day]).range([339.3,825]);
  const y = d3.scaleLinear().domain([0,35]).range([207,86.3]);
  defsClip("clipA",308,60,524,190);
  yGrid(y,ticksMillions,d=>d?d+" M":"0",308,524);
  xAxis(x,tickHours3h.map(h=>new Date(t0+h*hour)),207,
    d=>d3.utcFormat("%b %d,")(d),
    d=>d3.utcFormat("%-I:%M%p")(d).toLowerCase(),"clipA");
  const changes = g.append("g");
  relatedChangeHours.forEach(h=>{
    const cx = x(t0+h*hour);
    changes.append("line").attr("x1",cx).attr("x2",cx).attr("y1",78).attr("y2",207)
      .attr("stroke","#b4b8b7").attr("stroke-width",1.4).attr("stroke-dasharray","4 3");
    changes.append("circle").attr("cx",cx).attr("cy",78).attr("r",4).attr("fill","#a0a5a3");
  });
  const start = t0+27*60e3;
  const lineGen = d3.line().x((d,i)=>x(start+i*sampleMinutes*60e3)).y(d=>y(d));
  const plot = g.append("g").attr("clip-path","url(#clipA)");
  plot.append("path").attr("d",lineGen(visitorsPrevious)).attr("fill","none").attr("stroke","#c58fdf").attr("stroke-width",1.2).attr("stroke-dasharray","6 2");
  plot.append("path").attr("d",lineGen(visitorsCurrent)).attr("fill","none").attr("stroke","#c58fdf").attr("stroke-width",1.2);
  legendDot(g,316,263,"#bb78da","訪問者数",325);
  legendDot(g,578,263,"#bb78da","Previous 訪問者数",586);
  legendToggle(g,312.5,282,false,"Warning Violations",338);
  legendToggle(g,574.5,282,false,"Critical Violations",600);
  legendToggle(g,312.5,299,true,"Related Changes",338);
})();

// ---------- Per-day bar chart ----------
(function(){
  const g = svg.append("g");
  label(g,872,32,"グローバルサイト訪問者数推移(per day)","title");
  label(g,872,48,"Sep 27, 9:27am – Oct 28, 9:27am","sub");
  const d0 = Date.UTC(2024,8,27);
  const x = d3.scaleUtc().domain([d0,d0+31*day]).range([912.6,1396]);
  const y = d3.scaleLinear().domain([0,20]).range([241,86.3]);
  defsClip("clipB",872,60,526,225);
  yGrid(y,ticksTrillions,d=>d?d+" T":"0",872,524);
  const marks = g.append("g");
  dailyChangeHours.forEach((hours,i)=>hours.forEach(h=>{
    const cx = x(d0+i*day+h*hour);
    marks.append("line").attr("x1",cx).attr("x2",cx).attr("y1",78).attr("y2",241)
      .attr("stroke","#a8acab").attr("stroke-width",1.3).attr("stroke-dasharray","4 4");
    marks.append("circle").attr("cx",cx).attr("cy",78).attr("r",4).attr("fill","#a0a5a3");
  }));
  g.append("g").selectAll("rect").data(dailyTotals).join("rect")
    .attr("x",(d,i)=>x(d0+i*day)+.4).attr("width",(d,i)=>x(d0+(i+1)*day)-x(d0+i*day)-1)
    .attr("y",d=>y(d)).attr("height",d=>y(0)-y(d))
    .attr("fill","#bf7fda").attr("fill-opacity",.9);
  xAxis(x,dailyTickDays.map(i=>new Date(d0+i*day)),241,
    d=>d3.utcFormat("%b %d,")(d),d=>d3.utcFormat("%Y")(d),"clipB");
  legendDot(g,880,297,"#bb78da","訪問者数",888);
  legendToggle(g,937.5,297,false,"Warning Violations",964);
  legendToggle(g,1062.5,297,false,"Critical Violations",1088);
  legendToggle(g,1182.5,297,true,"Changes",1207);
  legendToggle(g,1259.5,297,true,"Related Changes",1284);
})();

// ---------- Latest days as progress rows ----------
(function(){
  const g = svg.append("g");
  label(g,1436,47,"Sep 27, 9:27am – Oct 28, 9:27am","sub");
  const x = d3.scaleLinear().domain([0,d3.max(dailyTotals)]).range([1443,1669]);
  const fmt = v=>d3.format(".3~")(v)+" T";
  const last = dailyTotals.length-1;
  rowColors.forEach((c,i)=>{
    const v = dailyTotals[last-i];
    const rowY = 90+55*i;
    const date = new Date(Date.UTC(2024,9,27-i));
    label(g,1443,rowY,d3.utcFormat("%B %d, %Y")(date)).attr("font-size",14.2);
    label(g,1668,rowY,fmt(v)).attr("font-size",14.2).attr("text-anchor","end");
    g.append("rect").attr("x",1443).attr("y",rowY+19).attr("width",226).attr("height",8).attr("rx",4).attr("fill","#e9eaea");
    g.append("rect").attr("x",1443).attr("y",rowY+19).attr("width",x(v)-1443).attr("height",8).attr("rx",4).attr("fill",c);
  });
  // A fifth row scrolls just past the card's visible area
  defsClip("clipRow",1419,290,274,16);
  const more = g.append("g").attr("clip-path","url(#clipRow)").attr("opacity",.09);
  label(more,1443,310,"October 23, 2024").attr("font-size",14.2);
  label(more,1668,310,fmt(dailyTotals[last-4])).attr("font-size",14.2).attr("text-anchor","end");
})();

// ---------- Health tiles ----------
(function(){
  const tiles = [[332,100,383,398,32,16,13],[440,100,492,512,43,18,14],[548,96,600,619,44,18,15]];
  defsClip("clipTile",0,332,160,312);
  const g = svg.append("g").attr("clip-path","url(#clipTile)");
  tileValues.forEach((v,i)=>{
    const [top,h,base,lab,size,tx,ls] = tiles[i];
    g.append("rect").attr("x",10).attr("y",top).attr("width",133).attr("height",i==2?h+8:h).attr("rx",3).attr("fill",tileColors[i]);
    g.append("text").attr("x",tx).attr("y",base).attr("font-size",size).attr("font-weight",300).style("fill","#fff").text(v);
    label(g,tx,lab,tileLabels[i]).attr("font-size",ls).style("fill",i==0?"#f7c6c3":"#c9e6da");
  });
})();

// ---------- Traffic source donut ----------
(function(){
  const g = svg.append("g");
  label(g,167,356,"流入経路","title");
  label(g,167,372,"Since 1 hour ago","sub");
  const pie = d3.pie().sort(null).value(d=>d)(sourceCounts);
  const arc = d3.arc().innerRadius(33).outerRadius(74);
  g.append("g").attr("transform","translate(242.5,514)").selectAll("path").data(pie).join("path")
    .attr("d",arc).attr("fill",(d,i)=>sourceSlices[i]);
  label(g,364,403,"Sessions (1.18 k)*").attr("font-size",13).style("fill","#4b5558");
  const countRight = [478,486,482];
  sourceNames.forEach((n,i)=>{
    const rowY = 436+28*i;
    g.append("circle").attr("cx",375).attr("cy",rowY).attr("r",4).attr("fill",sourceDots[i]);
    label(g,383,rowY,n).attr("font-size",12.4);
    label(g,countRight[i],rowY,sourceCounts[i]).attr("font-size",13).attr("text-anchor","end");
    label(g,537,rowY,sourceShares[i]).attr("font-size",13).attr("text-anchor","end");
    if(i<2) g.append("line").attr("x1",359).attr("x2",550).attr("y1",rowY+13.5).attr("y2",rowY+13.5).attr("stroke","#e3e5e5");
  });
  const note = (y,size,parts)=>{
    const t = label(g,359,y,"").attr("font-size",size);
    parts.forEach(([s,link,small])=>{
      const span = t.append("tspan").style("fill",link?"#3b79c8":"#8b9192").text(s);
      if(small) span.attr("font-size",small);
    });
  };
  note(532,9.6,[["∗ ",0,7],["This pie chart uses "],["uniqueCount",1],[", which"]]);
  note(551,10,[["may result in the facet sum exceeding"]]);
  note(567,9.6,[["100%. Learn more in our "],["documentation.",1]]);
})();

// ---------- Visitors line chart ----------
(function(){
  const g = svg.append("g");
  label(g,590,355,"訪問者数推移","title");
  label(g,590,372,"Since 1 week ago","sub");
  const t0 = Date.UTC(2024,9,21,9,0);
  const x = d3.scaleUtc().domain([t0,t0+7*day]).range([629.3,1131]);
  const y = d3.scaleLinear().domain([0,450]).range([567.3,410.3]);
  defsClip("clipC",590,395,524,215);
  yGrid(y,ticksPeople,d=>d,590,524);
  xAxis(x,tickDaysPeople.map(i=>new Date(t0+i*day)),567.3,
    d=>d3.utcFormat("%b %d,")(d),d=>d3.utcFormat("%-I:%M%p")(d).toLowerCase(),"clipC");
  g.append("path").attr("clip-path","url(#clipC)")
    .attr("d",d3.line().x((d,i)=>x(t0+i*6*hour)).y(d=>y(d))(peopleSeries))
    .attr("fill","none").attr("stroke","#7c4f93").attr("stroke-width",1.2);
  legendDot(g,598.6,624,"#773a8c","人",607);
})();

// ---------- Regional access map ----------
(function(){
  const g = svg.append("g");
  label(g,1154,355,"地域別アクセス状況","title");
  const projection = d3.geoMercator().scale(163).translate([1415,550.5]);
  const path = d3.geoPath(projection);
  const shade = d3.scaleQuantize().domain([0,1060]).range(accessRamp);
  // Rings may be listed either way round; keep the interior on the small side of the sphere
  const feature = ([name,ring])=>{
    const closed = ring.concat([ring[0]]);
    let f = {type:"Feature",properties:{name},geometry:{type:"Polygon",coordinates:[closed]}};
    if(d3.geoArea(f)>2*Math.PI) f.geometry.coordinates = [closed.slice().reverse()];
    return f;
  };
  defsClip("clipMap",1155,382,520,220);
  const map = g.append("g").attr("clip-path","url(#clipMap)");
  map.selectAll("path.region").data(regions.map(feature)).join("path").attr("class","region")
    .attr("d",path)
    .attr("fill",d=>{const v=regionAccess[d.properties.name];return v?shade(v):"#e3e5e5";})
    .attr("stroke","#6fa397").attr("stroke-width",.8).attr("stroke-linejoin","round");
  const circle = d3.geoCircle().radius(.15);
  map.selectAll("path.island").data(islands).join("path").attr("class","island")
    .attr("d",d=>path(circle.center(d)()))
    .attr("fill","#e3e5e5").attr("stroke","#6fa397").attr("stroke-width",.6);
  map.selectAll("circle").data(cityBubbles).join("circle")
    .attr("cx",d=>projection([d[1],d[2]])[0]).attr("cy",d=>projection([d[1],d[2]])[1])
    .attr("r",d=>d[3]>500?6.2:5).attr("fill",d=>d[4]);
  g.append("rect").attr("x",1154).attr("y",381).attr("width",522).attr("height",222).attr("fill","none").attr("stroke","#e8e9e9").attr("stroke-width",2);
  // Zoom control
  const zoom = g.append("g");
  zoom.append("rect").attr("x",1167).attr("y",393).attr("width",31).attr("height",63).attr("rx",2).attr("fill","#fff").attr("stroke","#cfd1d1").attr("stroke-width",2);
  zoom.append("line").attr("x1",1168).attr("x2",1197).attr("y1",424.5).attr("y2",424.5).attr("stroke","#dddede");
  ["+","−"].forEach((s,i)=>zoom.append("text").attr("x",1182.5).attr("y",i?441:411).attr("dy",".35em").attr("text-anchor","middle")
    .attr("font-size",24).attr("font-weight",700).style("font-family","'Liberation Sans'").style("fill","#111").text(s));
  // Colour key
  label(g,1154,624,"0").attr("font-size",12.5);
  g.selectAll("rect.key").data(accessRamp).join("rect").attr("class","key")
    .attr("x",(d,i)=>1166+15*i).attr("y",616).attr("width",15).attr("height",10).attr("fill",d=>d).attr("fill-opacity",.85);
  label(g,1246,624,"1.06K").attr("font-size",12.5);
})();
</script>
</body>
</html>
